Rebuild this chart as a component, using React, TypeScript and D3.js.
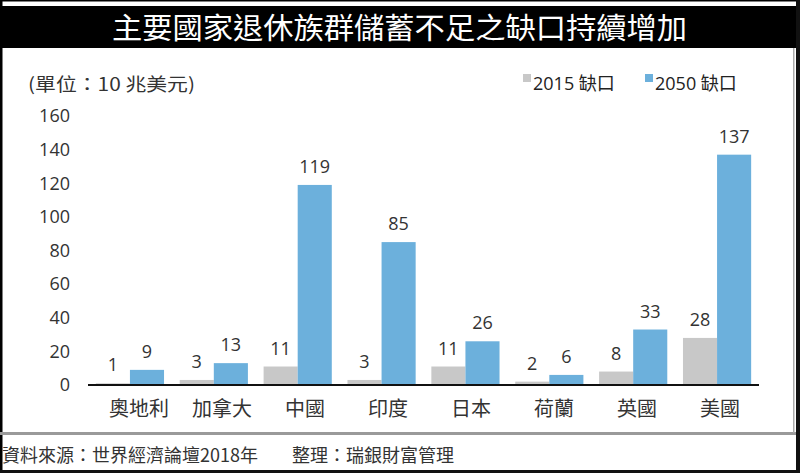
import React from "react";
import * as d3 from "d3";

const categories = ["奧地利", "加拿大", "中國", "印度", "日本", "荷蘭", "英國", "美國"];
const gap2015 = [1, 3, 11, 3, 11, 2, 8, 28];
const gap2050 = [9, 13, 119, 85, 26, 6, 33, 137];
const yTicks = [0, 20, 40, 60, 80, 100, 120, 140, 160];
const seriesNames = ["2015 缺口", "2050 缺口"];
const seriesColors = ["#c8c8c8", "#6cb0dc"];

const W = 800;
const H = 473;
const FONT = "'Open Sans', 'Noto Sans CJK TC', sans-serif";
const CJK = "'Noto Sans CJK TC', sans-serif";

export default function App() {
  const x = d3.scaleBand<string>().domain(categories).range([88, 759]).paddingInner(0).paddingOuter(0);
  const xs = d3
    .scaleBand<string>()
    .domain(["2015", "2050"])
    .range([0, x.bandwidth()])
    .paddingInner(0)
    .paddingOuter(0.23);
  const xLabel = d3.scalePoint<string>().domain(categories).range([139, 720]);
  const y = d3.scaleLinear().domain([0, 160]).range([385, 116]);
  const series = [gap2015, gap2050];
  const keys = ["2015", "2050"];

  return (
    <svg
      width={W}
      height={H}
      style={{ position: "absolute", left: 0, top: 0, background: "#fff" }}
    >
      <rect x={0} y={0} width={W} height={H} fill="#fff" />
      {/* frame */}
      <rect x={0} y={0} width={W} height={1.5} fill="#000" />
      <rect x={0} y={6} width={W} height={42} fill="#000" />
      <rect x={0} y={0} width={2.5} height={H} fill="#000" />
      <rect x={796} y={0} width={4} height={H} fill="#111" />
      <rect x={0} y={470} width={W} height={3} fill="#111" />
      <rect x={0} y={432} width={796} height={3} fill="#9a9a9a" />
      <rect x={793} y={48} width={1.5} height={385} fill="#aaa" />
      <text
        x={112}
        y={39}
        fill="#fff"
        fontFamily={CJK}
        fontSize={29}
        fontWeight={400}
        textLength={575}
        lengthAdjust="spacingAndGlyphs"
      >
        主要國家退休族群儲蓄不足之缺口持續增加
      </text>

      {/* unit */}
      <text
        x={28}
        y={91}
        fill="#333"
        fontFamily={CJK}
        fontSize={18}
        textLength={167}
        lengthAdjust="spacingAndGlyphs"
      >
        (單位：10 兆美元)
      </text>

      {/* legend */}
      {seriesNames.map((n, i) => {
        const lx = i === 0 ? 523 : 645;
        return (
          <g key={n}>
            <rect x={lx} y={74} width={8} height={8} fill={seriesColors[i]} />
            <text x={lx + 10} y={90} fill="#222" fontFamily={FONT} fontSize={18}>
              {n}
            </text>
          </g>
        );
      })}

      {/* y tick labels */}
      {yTicks.map((t) => (
        <text
          key={t}
          x={70}
          y={y(t)}
          dy="0.35em"
          textAnchor="end"
          fill="#333"
          fontFamily={FONT}
          fontSize={18}
        >
          {t}
        </text>
      ))}

      {/* bars */}
      {categories.map((c, ci) => (
        <g key={c}>
          {keys.map((k, si) => {
            const v = series[si][ci];
            const bx = x(c)! + xs(k)!;
            return (
              <g key={k}>
                <rect
                  x={bx}
                  y={y(v)}
                  width={xs.bandwidth()}
                  height={y(0) - y(v)}
                  fill={seriesColors[si]}
                />
                <text
                  x={bx + xs.bandwidth() / 2}
                  y={y(v) - 12}
                  textAnchor="middle"
                  fill="#333"
                  fontFamily={FONT}
                  fontSize={18}
                >
                  {v}
                </text>
              </g>
            );
          })}
          <text
            x={xLabel(c)}
            y={416}
            textAnchor="middle"
            fill="#333"
            fontFamily={CJK}
            fontSize={20}
          >
            {c}
          </text>
        </g>
      ))}

      {/* baseline */}
      <line x1={88} x2={759} y1={385} y2={385} stroke="#111" strokeWidth={2} />

      {/* footer */}
      <text x={2} y={462} fill="#333" fontFamily={CJK} fontSize={18}>
        資料來源：世界經濟論壇2018年
      </text>
      <text x={292} y={462} fill="#333" fontFamily={CJK} fontSize={18}>
        整理：瑞銀財富管理
      </text>
    </svg>
  );
}
